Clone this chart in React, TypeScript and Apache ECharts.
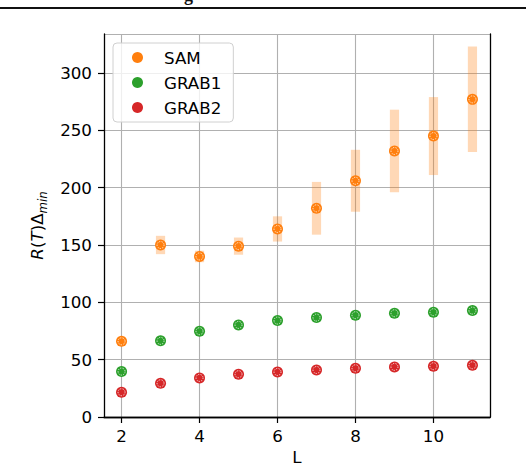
import React from 'react';
import * as echarts from 'echarts';

// x positions (L)
const lValues = [2, 3, 4, 5, 6, 7, 8, 9, 10, 11];
const xTicks = [2, 4, 6, 8, 10];

// R(T)Δ_min per method
const samValues = [66, 150, 140, 149, 164, 182, 206, 232, 245, 277];
const samStd = [2, 8, 5, 7.5, 11, 23, 27, 36, 34, 46];
const grab1Values = [39.6, 66.4, 74.8, 80.3, 84.1, 86.7, 88.8, 90.5, 91.4, 92.8];
const grab2Values = [21.6, 29.4, 34.1, 37.3, 39.3, 41.0, 42.5, 43.7, 44.3, 45.1];

const seriesNames = ['SAM', 'GRAB1', 'GRAB2'];
const seriesColors = ['#ff7f0e', '#2ca02c', '#d62728'];

const FONT = 'DejaVu Sans';

const App: React.FC = () => {
  const chartRef = React.useRef<HTMLDivElement>(null);

  React.useEffect(() => {
    if (!chartRef.current) return;
    document.body.style.margin = '0';

    const chart = echarts.init(chartRef.current, null, { renderer: 'svg' });

    const pts = (vals: number[]) => lValues.map((l, i) => [l, vals[i]]);
    const allValues = [samValues, grab1Values, grab2Values];

    const markerSeries = allValues.map((vals, i) => ({
      name: seriesNames[i],
      type: 'scatter',
      data: pts(vals),
      symbol: 'circle',
      symbolSize: 11,
      itemStyle: { color: seriesColors[i], opacity: 1 },
      z: 3,
    }));

    // white dotted inner ring on every marker
    const ringSeries = allValues.map((vals, i) => ({
      name: seriesNames[i] + '-ring',
      type: 'scatter',
      data: pts(vals),
      symbol: 'circle',
      symbolSize: 7,
      silent: true,
      itemStyle: {
        color: 'rgba(0,0,0,0)',
        borderColor: '#ffffff',
        borderWidth: 0.8,
        borderType: [1.2, 1.2],
        opacity: 1,
      },
      z: 4,
    }));

    const option = {
      animation: false,
      textStyle: { fontFamily: FONT },
      graphic: [
        { type: 'rect', left: 0, top: 7, shape: { width: 526, height: 2 }, style: { fill: '#111' } },
        {
          type: 'text',
          x: 184,
          y: 4,
          style: { text: 'g', font: 'bold 18px "Liberation Serif"', fill: '#111', verticalAlign: 'bottom' },
        },
      ],
      grid: { left: 104, right: 36, top: 34, bottom: 49, show: false, outerBoundsMode: 'none', containLabel: false },
      legend: {
        data: seriesNames,
        left: 113,
        top: 43,
        orient: 'vertical',
        icon: 'circle',
        itemWidth: 11,
        itemHeight: 11,
        itemGap: 8,
        padding: [6, 12, 6, 19],
        backgroundColor: 'rgba(255,255,255,0.8)',
        borderColor: '#d0d0d0',
        borderWidth: 1,
        borderRadius: 4,
        textStyle: { fontFamily: FONT, fontSize: 16.7, color: '#000', padding: [0, 0, 0, 16] },
      },
      xAxis: [
        {
          type: 'value',
          min: 1.55,
          max: 11.45,
          name: 'L',
          nameLocation: 'middle',
          nameGap: 31,
          nameTextStyle: { fontFamily: FONT, fontSize: 16.7, color: '#000' },
          axisLine: { show: true, lineStyle: { color: '#000', width: 1.3 } },
          axisTick: { show: true, length: 6, customValues: xTicks, lineStyle: { color: '#000', width: 1.2 } },
          axisLabel: { customValues: xTicks, fontFamily: FONT, fontSize: 16.7, color: '#000', margin: 10 },
          splitLine: { show: true, lineStyle: { color: '#b0b0b0', width: 1.1 } },
        },
        {
          type: 'value',
          position: 'top',
          min: 1.55,
          max: 11.45,
          axisLine: { show: true, lineStyle: { color: '#000', width: 1.3 } },
          axisTick: { show: false },
          axisLabel: { show: false },
          splitLine: { show: false },
        },
      ],
      yAxis: [
        {
          type: 'value',
          min: 0,
          max: 334,
          interval: 50,
          name: '{i|R}({i|T})Δ{s|min}',
          nameLocation: 'middle',
          nameGap: 50,
          nameTextStyle: {
            fontFamily: FONT,
            fontSize: 16.7,
            color: '#000',
            rich: {
              i: { fontFamily: FONT, fontSize: 16.7, fontStyle: 'italic', color: '#000', lineHeight: 24 },
              s: { fontFamily: FONT, fontSize: 11.7, fontStyle: 'italic', color: '#000', lineHeight: 13, verticalAlign: 'bottom' },
            },
          },
          axisLine: { show: true, lineStyle: { color: '#000', width: 1.3 } },
          axisTick: { show: true, length: 6, lineStyle: { color: '#000', width: 1.2 } },
          axisLabel: { fontFamily: FONT, fontSize: 16.7, color: '#000', margin: 12, showMaxLabel: false },
          splitLine: { show: true, lineStyle: { color: '#b0b0b0', width: 1.1 } },
        },
        {
          type: 'value',
          position: 'right',
          min: 0,
          max: 334,
          axisLine: { show: true, lineStyle: { color: '#000', width: 1.3 } },
          axisTick: { show: false },
          axisLabel: { show: false },
          splitLine: { show: false },
        },
      ],
      series: [
        {
          name: 'SAM-err',
          type: 'custom',
          silent: true,
          z: 2,
          data: lValues.map((l, i) => [l, samValues[i] - samStd[i], samValues[i] + samStd[i]]),
          renderItem: (_params: any, api: any) => {
            const top = api.coord([api.value(0), api.value(2)]);
            const bottom = api.coord([api.value(0), api.value(1)]);
            return {
              type: 'rect',
              shape: { x: top[0] - 4.6, y: top[1], width: 9.2, height: bottom[1] - top[1] },
              style: { fill: 'rgba(255,127,14,0.3)' },
            };
          },
        },
        ...markerSeries,
        ...ringSeries,
      ],
    };

    chart.setOption(option);

    return () => {
      chart.dispose();
    };
  }, []);

  return <div ref={chartRef} style={{ width: '526px', height: '466px' }} />;
};

export default App;
